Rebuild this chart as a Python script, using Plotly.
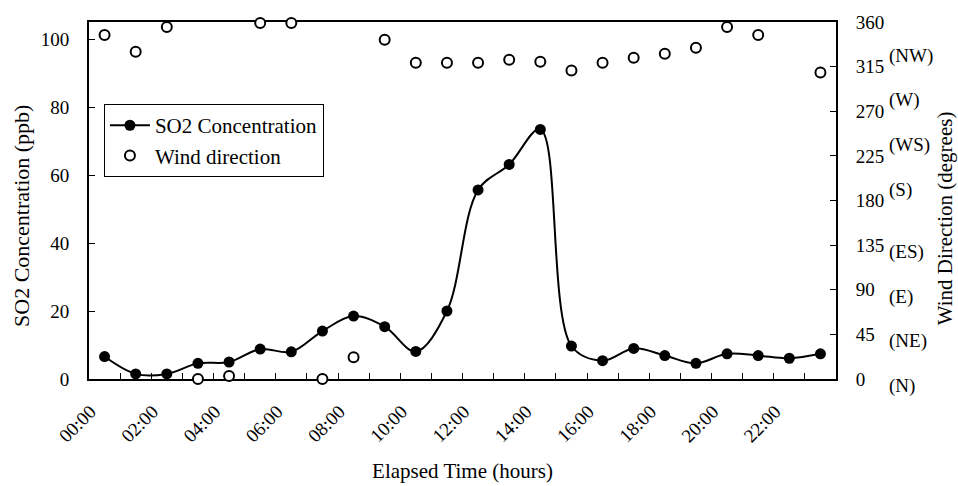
import plotly.graph_objects as go

# Hourly observations over one day
hours = list(range(24))
hour_labels = ["00:00", "02:00", "04:00", "06:00", "08:00", "10:00",
               "12:00", "14:00", "16:00", "18:00", "20:00", "22:00"]
label_hours = list(range(0, 24, 2))

so2_ppb = [6.6, 1.5, 1.5, 4.6, 5.0, 8.8, 8.0, 14.1, 18.5, 15.4, 8.1, 20.0,
           55.6, 63.1, 73.4, 9.7, 5.4, 9.0, 6.9, 4.6, 7.4, 6.9, 6.1, 7.4]

wind_deg = [347, 330, 355, 0, 3, 359, 359, 0, 22, 342, 319, 319,
            319, 322, 320, 311, 319, 324, 328, 334, 355, 347, None, 309]

so2_ticks = [0, 20, 40, 60, 80, 100]
wind_ticks = [0, 45, 90, 135, 180, 225, 270, 315, 360]
compass = ["(N)", "(NE)", "(E)", "(ES)", "(S)", "(WS)", "(W)", "(NW)"]
compass_deg = [0, 45, 90, 135, 180, 225, 270, 315]

FONT = "Liberation Serif, Times New Roman, serif"

fig = go.Figure()

fig.add_trace(go.Scatter(
    x=hours, y=so2_ppb, name="SO2 Concentration",
    mode="lines+markers",
    line=dict(color="black", width=2, shape="spline", smoothing=1.0),
    marker=dict(symbol="circle", size=11, color="black"),
    cliponaxis=False,
))

fig.add_trace(go.Scatter(
    x=hours, y=wind_deg, name="Wind direction", yaxis="y2",
    mode="markers",
    marker=dict(symbol="circle", size=10, color="white",
                line=dict(color="black", width=2)),
    cliponaxis=False,
))

axis_common = dict(
    showline=True, linecolor="black", linewidth=2,
    showgrid=False, zeroline=False, automargin=False,
    tickfont=dict(family=FONT, size=19, color="black"),
    layer="below traces",
)

# compass labels beside the wind-direction ticks
annotations = []
for deg, txt in zip(compass_deg, compass):
    annotations.append(dict(
        x=1, xref="paper", y=deg, yref="y2", text=txt, showarrow=False,
        xanchor="left", yanchor="middle", xshift=51,
        yshift=(11 if deg >= 180 else -7),
        font=dict(family=FONT, size=19, color="black"),
    ))

# vertical axis titles
annotations.append(dict(
    x=0, xref="paper", y=0.4566, yref="paper", xshift=-67,
    text="SO2 Concentration (ppb)", textangle=-90, showarrow=False,
    xanchor="center", yanchor="middle",
    font=dict(family=FONT, size=22, color="black"),
))
annotations.append(dict(
    x=1, xref="paper", y=0.45, yref="paper", xshift=109,
    text="Wind Direction (degrees)", textangle=-90, showarrow=False,
    xanchor="center", yanchor="middle",
    font=dict(family=FONT, size=21, color="black"),
))

fig.update_layout(
    width=958, height=486,
    margin=dict(l=89, r=122, t=22, b=107, pad=0),
    paper_bgcolor="white", plot_bgcolor="white",
    font=dict(family=FONT, color="black"),
    showlegend=True,
    legend=dict(
        x=0.02, y=0.77, xanchor="left", yanchor="top",
        bgcolor="white", bordercolor="black", borderwidth=1,
        itemwidth=40, tracegroupgap=0,
        font=dict(family=FONT, size=21, color="black"),
    ),
    xaxis=dict(
        **axis_common,
        mirror=True,
        range=[-0.5, 23.5],
        tickmode="array", tickvals=label_hours, ticktext=hour_labels,
        tickangle=-45, ticks="inside", ticklen=0,
        ticklabelstandoff=12, ticklabelshift=-14,
        minor=dict(tickmode="array",
                   tickvals=[h + 0.5 for h in hours[:-1]],
                   ticks="inside", ticklen=6, tickwidth=1, tickcolor="black"),
        title=dict(text="Elapsed Time (hours)",
                   font=dict(family=FONT, size=21, color="black"),
                   standoff=18),
    ),
    yaxis=dict(
        **axis_common,
        mirror=True,
        range=[0, 105],
        tickmode="array", tickvals=so2_ticks,
        ticks="inside", ticklen=6, tickwidth=1, tickcolor="black",
        ticklabelstandoff=14,
    ),
    yaxis2=dict(
        **axis_common,
        overlaying="y", side="right",
        range=[0, 360],
        tickmode="array", tickvals=wind_ticks,
        ticks="inside", ticklen=6, tickwidth=1, tickcolor="black",
        ticklabelstandoff=14,
    ),
    annotations=annotations,
)

fig.write_html("out.html")
